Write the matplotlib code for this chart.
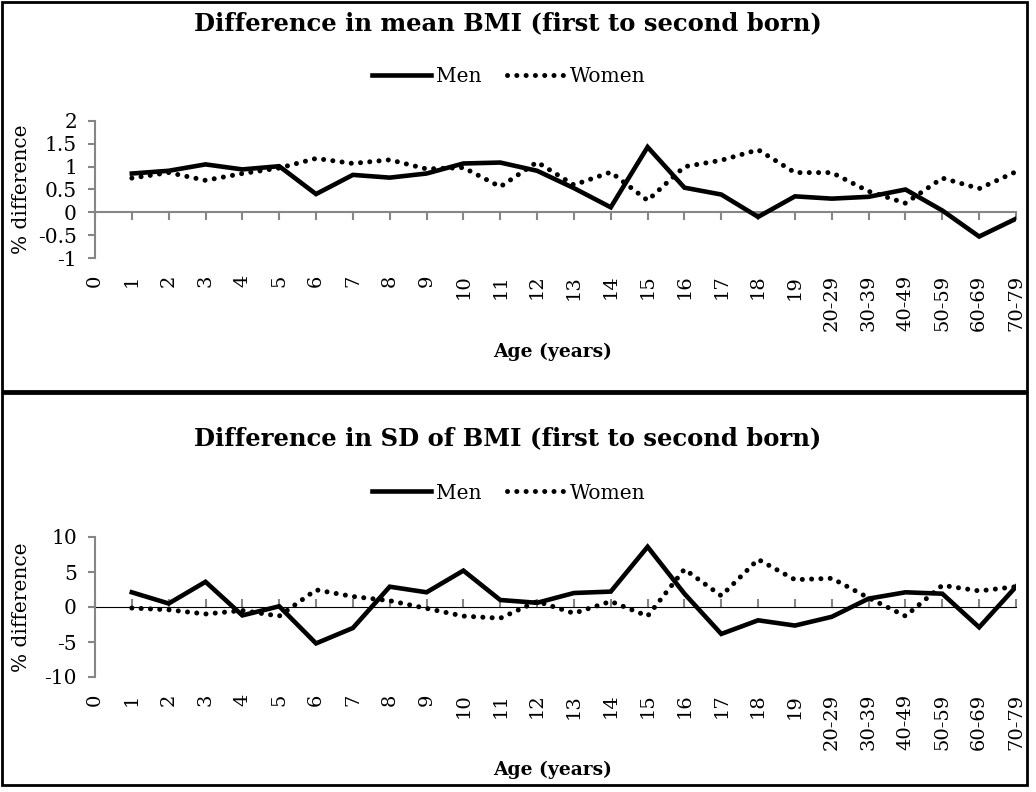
import matplotlib
matplotlib.use("Agg")
import matplotlib.pyplot as plt
from matplotlib.patches import Rectangle

# age categories (0 has no data)
ages = ["0", "1", "2", "3", "4", "5", "6", "7", "8", "9", "10", "11", "12",
        "13", "14", "15", "16", "17", "18", "19", "20-29", "30-39", "40-49",
        "50-59", "60-69", "70-79"]

mean_men = [0.85, 0.91, 1.05, 0.94, 1.01, 0.40, 0.82, 0.76, 0.85, 1.07, 1.09,
            0.91, 0.53, 0.11, 1.43, 0.54, 0.39, -0.10, 0.35, 0.30, 0.34, 0.50,
            0.04, -0.53, -0.14]
mean_women = [0.75, 0.87, 0.70, 0.85, 0.97, 1.18, 1.07, 1.15, 0.95, 0.98, 0.56,
              1.10, 0.60, 0.88, 0.26, 1.00, 1.14, 1.37, 0.87, 0.87, 0.46, 0.20,
              0.75, 0.52, 0.89]

sd_men = [2.1, 0.5, 3.6, -1.2, 0.1, -5.2, -3.0, 2.9, 2.1, 5.2, 1.0, 0.6, 2.0,
          2.2, 8.6, 1.9, -3.85, -1.9, -2.65, -1.4, 1.2, 2.1, 1.9, -2.9, 2.9]
sd_women = [-0.15, -0.4, -1.0, -0.5, -1.3, 2.45, 1.5, 0.9, -0.2, -1.3, -1.6,
            0.8, -0.9, 0.8, -1.3, 5.4, 1.6, 6.8, 3.9, 4.1, 1.3, -1.3, 3.1, 2.3,
            2.9]

mean_yticks = [-1, -0.5, 0, 0.5, 1, 1.5, 2]
mean_ylabels = ["-1", "-0.5", "0", "0.5", "1", "1.5", "2"]
sd_yticks = [-10, -5, 0, 5, 10]
sd_ylabels = ["-10", "-5", "0", "5", "10"]

titles = ["Difference in mean BMI (first to second born)",
          "Difference in SD of BMI (first to second born)"]

W, H = 1036, 792
GRAY = "#868686"
plt.rcParams["font.family"] = "DejaVu Serif"

fig = plt.figure(figsize=(W / 100, H / 100), dpi=100)


def px_axes(left, top, right, bottom):
    return fig.add_axes([left / W, 1 - bottom / H, (right - left) / W, (bottom - top) / H])


def panel(ax, men, women, yticks, ylabels, title, top_px, legend_px, xlabel_px):
    x = list(range(1, len(ages)))
    ax.plot(x, men, color="black", lw=3.3, solid_joinstyle="miter", label="Men")
    ax.plot(x, women, color="black", lw=3.6, linestyle=(0, (0.01, 1.85)),
            dash_capstyle="round", label="Women")
    ax.set_xlim(0, len(ages) - 1)
    ax.set_ylim(yticks[0], yticks[-1])
    ax.set_yticks(yticks)
    ax.set_yticklabels(ylabels, fontsize=14.5)
    for s in ["top", "right", "bottom"]:
        ax.spines[s].set_visible(False)
    ax.spines["left"].set_color(GRAY)
    ax.spines["left"].set_linewidth(1.5)
    ax.tick_params(axis="y", direction="out", length=5, width=1.5, color=GRAY, pad=8)
    # category labels at the bottom of the plot area
    ax.set_xticks(range(len(ages)))
    ax.set_xticklabels(ages, rotation=90, fontsize=14, va="top")
    ax.tick_params(axis="x", length=0, pad=12)
    # zero line with ticks
    ymin, ymax = yticks[0], yticks[-1]
    zero = ax.secondary_xaxis((0 - ymin) / (ymax - ymin))
    zero.set_xticks(range(len(ages)))
    zero.set_xticklabels([])
    zero.spines["bottom"].set_color(GRAY)
    zero.spines["bottom"].set_linewidth(1.5)
    zero.tick_params(axis="x", direction="out", length=6, width=1.5, color=GRAY)
    ax.set_ylabel("% difference", fontsize=14.5)
    ax.yaxis.set_label_coords((31 - 95) / 921, 0.5)
    fig.text(508 / W, 1 - top_px / H, title, ha="center", va="center",
             fontsize=17.5, fontweight="bold")
    fig.legend(*ax.get_legend_handles_labels(), loc="center", ncol=2,
               bbox_to_anchor=(509 / W, 1 - legend_px / H), frameon=False,
               fontsize=14.5, handlelength=2.9, columnspacing=1.25, handletextpad=0.25)
    fig.text(553 / W, 1 - xlabel_px / H, "Age (years)", ha="center", va="center",
             fontsize=13.5, fontweight="bold")


ax1 = px_axes(95, 121, 1016, 258)
panel(ax1, mean_men, mean_women, mean_yticks, mean_ylabels, titles[0], 23, 77, 352)

ax2 = px_axes(95, 537, 1016, 677)
panel(ax2, sd_men, sd_women, sd_yticks, sd_ylabels, titles[1], 438, 493, 770)

# panel borders
for top, bottom in [(1.5, 391), (393, 785)]:
    fig.patches.append(Rectangle((1.5 / W, 1 - bottom / H), (1027 - 1.5) / W,
                                 (bottom - top) / H, transform=fig.transFigure,
                                 fill=False, edgecolor="black", lw=2))

fig.savefig("out.png", dpi=100)
